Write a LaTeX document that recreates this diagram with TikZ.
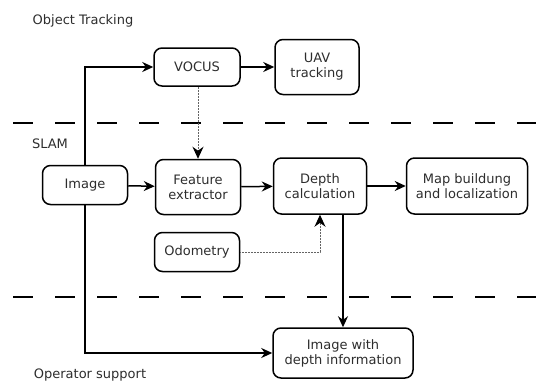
\documentclass[tikz,border=0pt]{standalone}
\usepackage{fontspec}
\setmainfont{DejaVu Sans}
\usetikzlibrary{arrows.meta, calc}
\definecolor{textgray}{RGB}{45,45,45}
\definecolor{dotgray}{RGB}{100,100,100}

\begin{document}
\begin{tikzpicture}[
  x=1pt, y=-1pt,
  font=\fontsize{13}{15}\selectfont,
  block/.style={draw, line width=1.5pt, rounded corners=8pt, align=center,
    text=textgray, inner sep=2pt},
  lbl/.style={text=textgray, inner sep=0pt},
  arr/.style={-{Stealth[length=11pt, width=10pt]}, line width=1.5pt},
  dotarr/.style={-{Stealth[length=12pt, width=11pt, black, line width=1pt]},
    line width=0.9pt, draw=dotgray, dash pattern=on 1pt off 0.5pt},
  sep/.style={line width=2.5pt, dash pattern=on 20pt off 22pt}
]
  \useasboundingbox (0,0) rectangle (536,381);
  % section separators
  \draw[sep] (13,123) -- (536,123);
  \draw[sep] (13,297) -- (536,297);
  % section titles
  \node[lbl] (tracktitle) at (83,21) {Object Tracking};
  \node[lbl] (slamtitle) at (50,144) {SLAM};
  \node[lbl] (optitle) at (90,375) {Operator support};
  % blocks
  \node[block, minimum width=86pt, minimum height=38pt] (vocus) at (197,67) {VOCUS};
  \node[block, minimum width=84pt, minimum height=55pt] (uav) at (317,67) {UAV\\tracking};
  \node[block, minimum width=85pt, minimum height=39pt] (img) at (85,185) {Image};
  \node[block, minimum width=85pt, minimum height=55pt] (feat) at (198,187) {Feature\\extractor};
  \node[block, minimum width=93pt, minimum height=56pt] (depth) at (320,186) {Depth\\calculation};
  \node[block, minimum width=121pt, minimum height=56pt] (map) at (467,186) {Map buildung\\and localization};
  \node[block, minimum width=85pt, minimum height=39pt] (odo) at (197,252) {Odometry};
  \node[block, minimum width=140pt, minimum height=50pt] (imgdepth) at (343,353) {Image with\\depth information};
  % connectors
  \draw[arr] (img.north) |- (vocus.west);
  \draw[arr] (vocus) -- (uav);
  \draw[dotarr] (vocus.south -| feat.north) -- (feat.north);
  \draw[arr] (img) -- (feat);
  \draw[arr] (feat) -- (depth);
  \draw[arr] (depth) -- (map);
  \draw[dotarr] (odo.east) -| (depth.south);
  \draw[arr] (depth.south -| imgdepth.north) -- (imgdepth.north);
  \draw[arr] (img.south) |- (imgdepth.west);
\end{tikzpicture}
\end{document}
